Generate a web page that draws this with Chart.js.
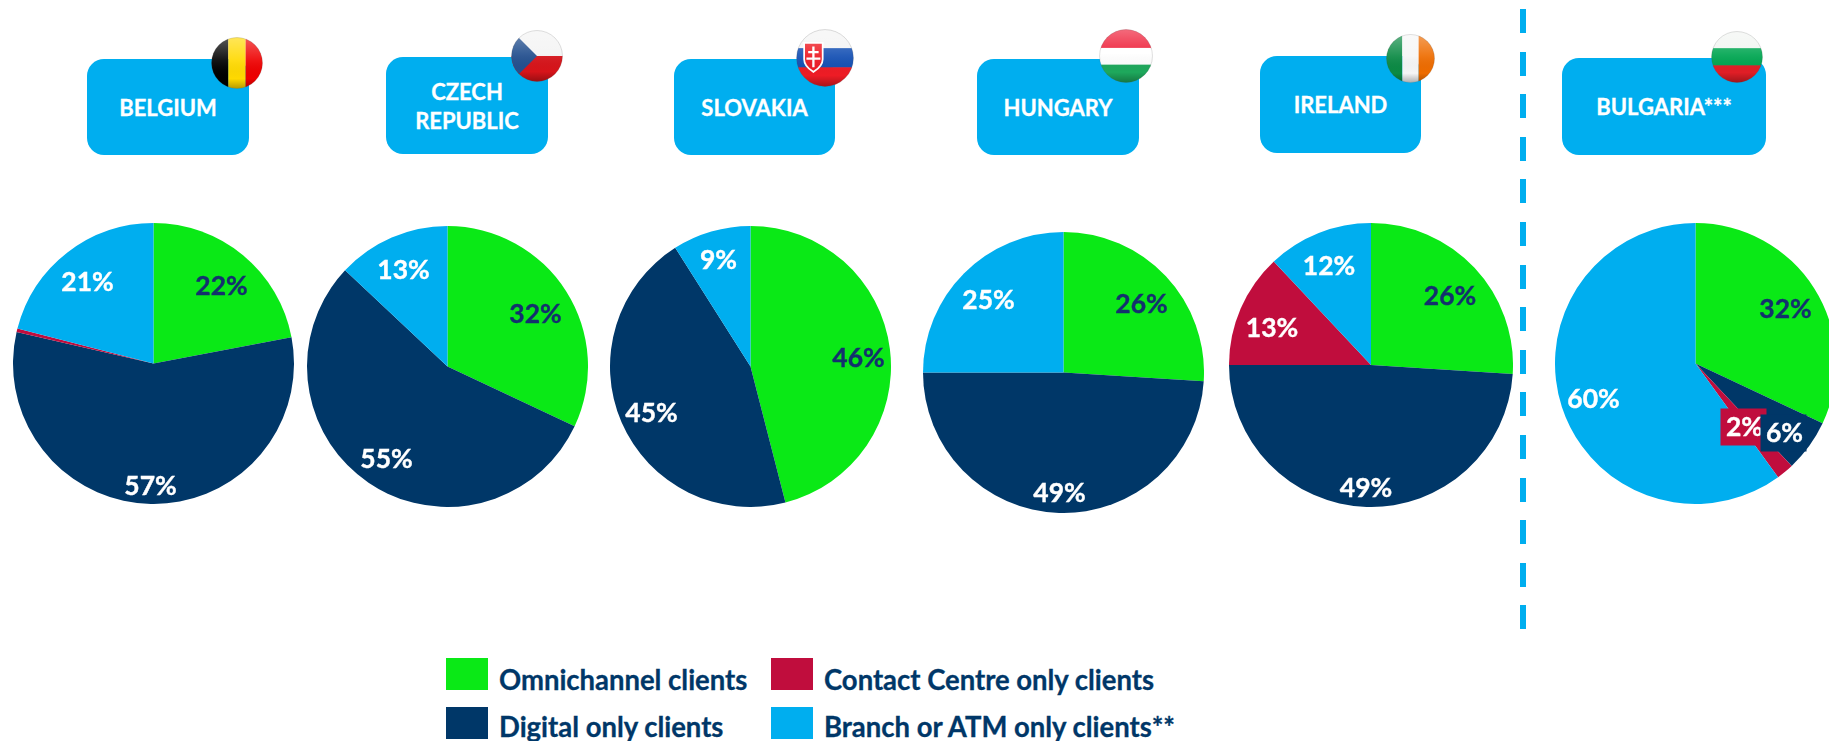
<!DOCTYPE html>
<html>
<head>
<meta charset="utf-8">
<title>Client channel mix by country</title>
<script src="https://cdn.jsdelivr.net/npm/chart.js@4"></script>
<style>
  html, body { margin: 0; padding: 0; background: #fff; }
  body { position: relative; width: 1829px; height: 741px; overflow: hidden; font-family: Lato, sans-serif; font-weight: 700; }
  .pie { position: absolute; }
  .box { position: absolute; background: #00aeef; border-radius: 17px; color: #fff; font-size: 22px; line-height: 29px;
         display: flex; align-items: center; justify-content: center; text-align: center; -webkit-text-stroke: 0.3px #fff; }
  .box span { display: inline-block; white-space: nowrap; }
  .flag { position: absolute; }
  .swatch { position: absolute; width: 42px; height: 32px; }
  .legend-text { position: absolute; color: #003768; font-size: 28px; line-height: 30px; white-space: nowrap; transform-origin: left center; transform: scaleX(0.98); -webkit-text-stroke: 0.3px #003768; }
  #divider { position: absolute; left: 1520px; top: 9px; width: 6px; height: 621px;
             background: repeating-linear-gradient(to bottom, #00aeef 0, #00aeef 24px, transparent 24px, transparent 42.6px); }
</style>
</head>
<body>
<div id="divider"></div>
<script>
const countries = ['BELGIUM', 'CZECH\nREPUBLIC', 'SLOVAKIA', 'HUNGARY', 'IRELAND', 'BULGARIA***'];
const channels = ['Omnichannel clients', 'Digital only clients', 'Contact Centre only clients', 'Branch or ATM only clients**'];

const omnichannel = [22, 32, 46, 26, 26, 32];
const digitalOnly = [56.6, 55, 45, 49, 49, 6];
const contactCentre = [0.4, 0, 0, 0, 13, 2];
const branchAtm = [21, 13, 9, 25, 12, 60];

const channelColors = ['#0ae916', '#003768', '#c00d3d', '#00aeef'];
const labelColors = ['#14306e', '#fff', '#fff', '#fff'];

// page layout, in px: pie centre + radius
const pieLayout = [
    { x: 153.4, y: 363.4, r: 140.6 },
    { x: 447.4, y: 366.9, r: 140.6 },
    { x: 750.6, y: 366.9, r: 140.6 },
    { x: 1063.3, y: 372.7, r: 140.6 },
    { x: 1370.6, y: 365.1, r: 142 },
    { x: 1696, y: 364, r: 140.6 }
];

// where the % labels sit relative to the pie centre, per channel
const labelOffsets = [
    [[68, -77], [-3, 123], null, [-66, -81]],
    [[88, -52], [-61, 93], null, [-44, -96]],
    [[108, -8], [-99, 47], null, [-32, -106]],
    [[78, -68], [-4, 121], null, [-75, -72]],
    [[79, -69], [-5, 123], [-99, -37], [-42, -99]],
    [[90, -54], [89, 70], [49, 64], [-102, 36]]
];

const boxLayout = [
    { x: 87, y: 59, w: 162, h: 96 },
    { x: 386, y: 57, w: 162, h: 97 },
    { x: 674, y: 59, w: 161, h: 96 },
    { x: 977, y: 59, w: 162, h: 96 },
    { x: 1260, y: 56, w: 161, h: 97 },
    { x: 1562, y: 58, w: 204, h: 97 }
];

const flagLayout = [
    { x: 237, y: 63, r: 26, kind: 'be' },
    { x: 537, y: 56, r: 26, kind: 'cz' },
    { x: 825, y: 58, r: 29, kind: 'sk' },
    { x: 1126, y: 56, r: 27, kind: 'hu' },
    { x: 1410, y: 58, r: 24.5, kind: 'ie' },
    { x: 1737, y: 57, r: 26, kind: 'bg' }
];

const flagArt = {
    be: '<rect width="33.4" height="100" fill="#000"/><rect x="33.3" width="33.4" height="100" fill="#ffd900"/><rect x="66.6" width="33.4" height="100" fill="#ee0000"/>',
    cz: '<rect width="100" height="50" fill="#f4f4f4"/><rect y="50" width="100" height="50" fill="#d7141a"/><path d="M0 0L50 50L0 100Z" fill="#24508f"/>',
    sk: '<rect width="100" height="34" fill="#f4f4f4"/><rect y="33" width="100" height="34" fill="#1450b4"/><rect y="66" width="100" height="34" fill="#ee1c25"/>' +
        '<path d="M14 24H46V52C46 64 36 70 30 74C24 70 14 64 14 52Z" fill="#ee1c25" stroke="#fff" stroke-width="3"/>' +
        '<path d="M28 30H32V66H28ZM21 38H39V42H21ZM18 49H42V53H18Z" fill="#fff"/>',
    hu: '<rect width="100" height="36" fill="#ee1c36"/><rect y="35" width="100" height="32" fill="#fff"/><rect y="66" width="100" height="34" fill="#1ea85c"/>',
    ie: '<rect width="33.4" height="100" fill="#0b8a44"/><rect x="33.3" width="33.4" height="100" fill="#f6f6f6"/><rect x="66.6" width="33.4" height="100" fill="#ee6c00"/>',
    bg: '<rect width="100" height="34" fill="#f2f5f2"/><rect y="33" width="100" height="34" fill="#00a651"/><rect y="66" width="100" height="34" fill="#e01e26"/>'
};

const pctLabels = {
    id: 'pctLabels',
    afterDatasetsDraw(chart, args, opts) {
        const ctx = chart.ctx;
        const arcs = chart.getDatasetMeta(0).data;
        ctx.save();
        ctx.font = '700 27px Lato, sans-serif';
        ctx.textAlign = 'center';
        ctx.textBaseline = 'middle';
        // reversed so the Digital label box ends up above the Contact Centre one
        for (let i = arcs.length - 1; i >= 0; i--) {
            const offset = opts.offsets[i];
            const value = chart.data.datasets[0].data[i];
            if (!offset || value < 1) continue;
            const px = arcs[i].x + offset[0];
            const py = arcs[i].y + offset[1];
            if (opts.boxed && (i === 1 || i === 2)) {
                ctx.fillStyle = channelColors[i];
                ctx.fillRect(px - 24, py - 19, 46, 37);
            }
            ctx.fillStyle = labelColors[i];
            ctx.strokeStyle = labelColors[i];
            ctx.lineWidth = 0.4;
            ctx.save();
            ctx.translate(px, py);
            ctx.scale(0.98, 1);
            ctx.fillText(Math.round(value) + '%', 0, 0);
            ctx.strokeText(Math.round(value) + '%', 0, 0);
            ctx.restore();
        }
        ctx.restore();
    }
};

countries.forEach((name, i) => {
    const pos = pieLayout[i];
    const canvas = document.createElement('canvas');
    canvas.className = 'pie';
    canvas.width = pos.r * 2;
    canvas.height = pos.r * 2;
    canvas.style.left = (pos.x - pos.r) + 'px';
    canvas.style.top = (pos.y - pos.r) + 'px';
    document.body.appendChild(canvas);

    new Chart(canvas, {
        type: 'pie',
        data: {
            labels: channels,
            datasets: [{
                data: [omnichannel[i], digitalOnly[i], contactCentre[i], branchAtm[i]],
                backgroundColor: channelColors,
                borderWidth: 0
            }]
        },
        options: {
            responsive: false,
            animation: false,
            plugins: {
                legend: { display: false },
                tooltip: { enabled: false },
                pctLabels: { offsets: labelOffsets[i], boxed: i === 5 }
            }
        },
        plugins: [pctLabels]
    });

    const b = boxLayout[i];
    const box = document.createElement('div');
    box.className = 'box';
    box.style.cssText = `left:${b.x}px;top:${b.y}px;width:${b.w}px;height:${b.h}px`;
    box.innerHTML = '<span>' + name.replace('\n', '<br>') + '</span>';
    document.body.appendChild(box);

    const f = flagLayout[i];
    const flag = document.createElement('div');
    flag.className = 'flag';
    flag.style.cssText = `left:${f.x - f.r}px;top:${f.y - f.r}px;width:${f.r * 2}px;height:${f.r * 2}px`;
    flag.innerHTML = `<svg viewBox="0 0 100 100" width="${f.r * 2}" height="${f.r * 2}">
        <defs>
          <clipPath id="c${i}"><circle cx="50" cy="50" r="49"/></clipPath>
          <linearGradient id="g${i}" x1="0" y1="0" x2="0" y2="1">
            <stop offset="0" stop-color="#fff" stop-opacity="0.35"/>
            <stop offset="0.45" stop-color="#fff" stop-opacity="0.08"/>
            <stop offset="0.8" stop-color="#000" stop-opacity="0"/>
            <stop offset="1" stop-color="#000" stop-opacity="0.3"/>
          </linearGradient>
        </defs>
        <g clip-path="url(#c${i})">${flagArt[f.kind]}<rect width="100" height="100" fill="url(#g${i})"/></g>
        <circle cx="50" cy="50" r="49" fill="none" stroke="#555" stroke-opacity="0.35"/>
      </svg>`;
    document.body.appendChild(flag);
});

// legend, same order as the reference: two rows, two columns
const legendSpots = [
    { x: 446, y: 658, tx: 499, ty: 664 },
    { x: 446, y: 707, tx: 499, ty: 711 },
    { x: 771, y: 658, tx: 823.5, ty: 664 },
    { x: 771, y: 707, tx: 823.5, ty: 711 }
];
channels.forEach((label, i) => {
    const s = legendSpots[i];
    const swatch = document.createElement('div');
    swatch.className = 'swatch';
    swatch.style.cssText = `left:${s.x}px;top:${s.y}px;background:${channelColors[i]}`;
    document.body.appendChild(swatch);
    const text = document.createElement('div');
    text.className = 'legend-text';
    text.style.cssText = `left:${s.tx}px;top:${s.ty}px`;
    text.textContent = label;
    document.body.appendChild(text);
});
</script>
</body>
</html>
